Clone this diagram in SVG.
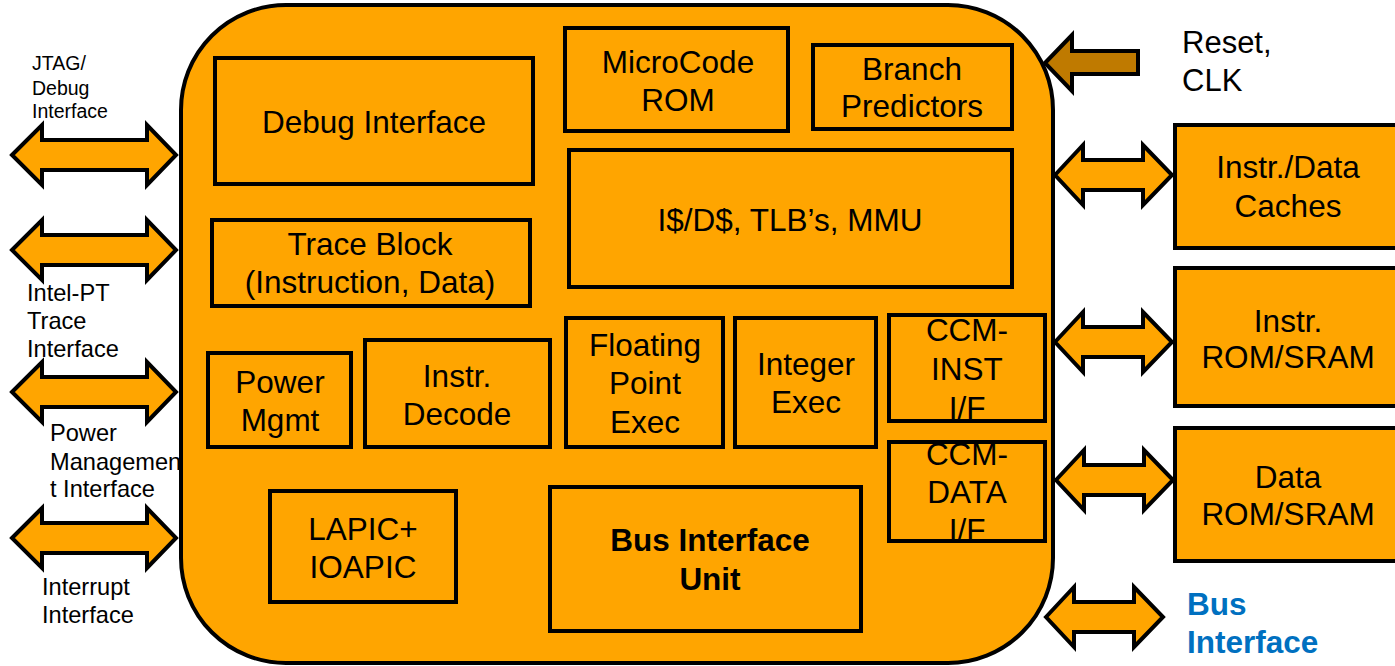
<svg xmlns="http://www.w3.org/2000/svg" width="1395" height="666" viewBox="0 0 1395 666">
<style>
.blk{fill:#FFA500;stroke:#000;stroke-width:4;stroke-linejoin:miter}
.fo{fill:#FFA500;stroke:none}
.so{fill:none;stroke:#000;stroke-width:4}
.t{font-family:"Liberation Sans",Arial,sans-serif;font-size:31.5px;fill:#000;text-anchor:middle}
.b{font-weight:bold}
.lbl{font-family:"Liberation Sans",Arial,sans-serif;fill:#000}
.blue{fill:#0070C0;font-weight:bold;font-size:31.5px}
.arr{fill:#FFA500;stroke:#000;stroke-width:4;stroke-linejoin:miter}
</style>
<defs>
<path id="la" d="M0,0 L30,-30 L30,-15 L135,-15 L135,-30 L164,0 L135,30 L135,15 L30,15 L30,30 Z"/>
<path id="ra" d="M0,0 L28,-30 L28,-15 L88,-15 L88,-30 L117,0 L88,30 L88,15 L28,15 L28,30 Z"/>
</defs>
<rect width="1395" height="666" fill="#fff"/>

<g id="labels-left" class="lbl">
<text font-size="19.5" x="32"><tspan x="32" y="70">JTAG/</tspan><tspan x="32" y="95">Debug</tspan><tspan x="32" y="118">Interface</tspan></text>
<text font-size="23.6" x="27"><tspan x="27" y="301">Intel-PT</tspan><tspan x="27" y="329">Trace</tspan><tspan x="27" y="357">Interface</tspan></text>
<text font-size="23.6" x="50"><tspan x="50" y="441">Power</tspan><tspan x="50" y="470">Managemen</tspan><tspan x="50" y="497">t Interface</tspan></text>
<text font-size="23.6" x="42"><tspan x="42" y="595">Interrupt</tspan><tspan x="42" y="623">Interface</tspan></text>
</g>

<g id="body">
<rect class="blk" x="181" y="5" width="872" height="658" rx="105" ry="105"/>
</g>

<g id="debug-interface"><rect class="blk" x="215" y="58" width="318" height="126"/><text class="t" x="374" y="133">Debug Interface</text></g>
<g id="trace-block"><rect class="blk" x="212" y="220" width="318" height="86"/><text class="t" x="370" y="255">Trace Block</text><text class="t" x="370" y="293">(Instruction, Data)</text></g>
<g id="microcode-rom"><rect class="blk" x="565" y="28" width="223" height="103"/><text class="t" x="678" y="73">MicroCode</text><text class="t" x="678" y="111">ROM</text></g>
<g id="branch-predictors"><rect class="blk" x="813" y="45" width="199" height="84"/><text class="t" x="912" y="80">Branch</text><text class="t" x="912" y="117">Predictors</text></g>
<g id="mmu"><rect class="blk" x="569" y="150" width="443" height="137"/><text class="t" x="790" y="231">I$/D$, TLB’s, MMU</text></g>
<g id="power-mgmt"><rect class="blk" x="208" y="353" width="143" height="94"/><text class="t" x="280" y="393">Power</text><text class="t" x="280" y="431">Mgmt</text></g>
<g id="instr-decode"><rect class="blk" x="365" y="340" width="185" height="107"/><text class="t" x="457" y="387">Instr.</text><text class="t" x="457" y="425">Decode</text></g>
<g id="lapic"><rect class="blk" x="270" y="491" width="186" height="111"/><text class="t" x="363" y="540">LAPIC+</text><text class="t" x="363" y="578">IOAPIC</text></g>
<g id="fp-exec"><rect class="blk" x="566" y="318" width="157" height="129"/><text class="t" x="645" y="356">Floating</text><text class="t" x="645" y="394">Point</text><text class="t" x="645" y="433">Exec</text></g>
<g id="int-exec"><rect class="blk" x="735" y="318" width="141" height="129"/><text class="t" x="806" y="375">Integer</text><text class="t" x="806" y="413">Exec</text></g>
<g id="ccm-inst"><rect class="fo" x="889" y="315" width="156" height="106"/><text class="t" x="967" y="341">CCM-</text><text class="t" x="967" y="380">INST</text><text class="t" x="967" y="419">I/F</text><rect class="so" x="889" y="315" width="156" height="106"/></g>
<g id="ccm-data"><rect class="fo" x="889" y="442" width="156" height="99"/><text class="t" x="967" y="465">CCM-</text><text class="t" x="967" y="503">DATA</text><text class="t" x="967" y="541">I/F</text><rect class="so" x="889" y="442" width="156" height="99"/></g>
<g id="biu"><rect class="blk" x="550" y="487" width="311" height="144"/><text class="t b" x="710" y="551">Bus Interface</text><text class="t b" x="710" y="590">Unit</text></g>

<g id="instr-data-caches"><rect class="blk" x="1175" y="125" width="240" height="123"/><text class="t" x="1288" y="178">Instr./Data</text><text class="t" x="1288" y="217">Caches</text></g>
<g id="instr-rom"><rect class="blk" x="1175" y="268" width="240" height="138"/><text class="t" x="1288" y="332">Instr.</text><text class="t" x="1288" y="368">ROM/SRAM</text></g>
<g id="data-rom"><rect class="blk" x="1175" y="428" width="240" height="133"/><text class="t" x="1288" y="488">Data</text><text class="t" x="1288" y="525">ROM/SRAM</text></g>

<g id="labels-right" class="lbl">
<text font-size="31" x="1182"><tspan x="1182" y="53">Reset,</tspan><tspan x="1182" y="91">CLK</tspan></text>
<text class="blue" x="1187"><tspan x="1187" y="615">Bus</tspan><tspan x="1187" y="653">Interface</tspan></text>
</g>

<g id="connectors">
<use href="#la" class="arr" x="12" y="155"/>
<use href="#la" class="arr" x="12" y="250"/>
<use href="#la" class="arr" x="12" y="392"/>
<use href="#la" class="arr" x="12" y="538"/>
<use href="#ra" class="arr" x="1055" y="175"/>
<use href="#ra" class="arr" x="1055" y="342"/>
<use href="#ra" class="arr" x="1056" y="480"/>
<use href="#ra" class="arr" x="1046" y="617"/>
<path d="M1045,63 L1072,35 L1072,51 L1138,51 L1138,74 L1072,74 L1072,91 Z" fill="#BF7A00" stroke="#000" stroke-width="4" stroke-linejoin="miter"/>
</g>
</svg>
